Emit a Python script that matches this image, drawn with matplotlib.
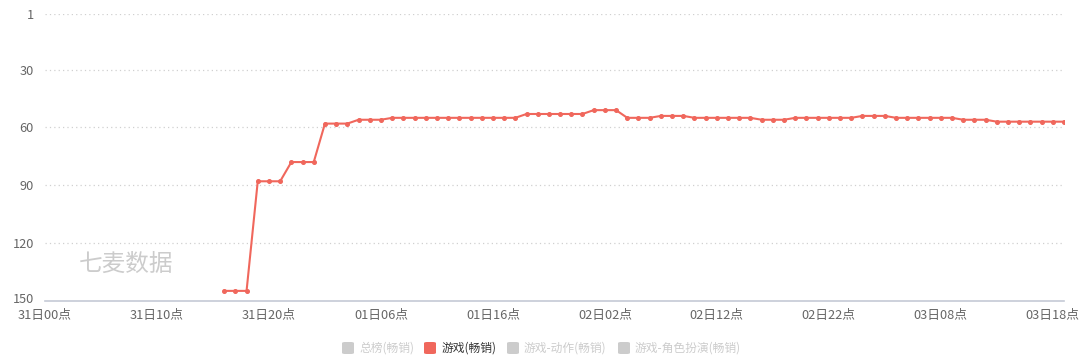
import matplotlib
matplotlib.use("Agg")
import matplotlib.pyplot as plt
import matplotlib.transforms as mtransforms
from matplotlib.patches import FancyBboxPatch
import numpy as np

plt.rcParams['font.family'] = ['Noto Sans CJK SC', 'DejaVu Sans']

# hourly ranks from 31日00点 (index 0) to 03日19点 (index 91); None = not ranked
ranks = [None] * 16 + \
    [145, 145, 145,
     88, 88, 88,
     78, 78, 78,
     58, 58, 58,
     56, 56, 56,
     55, 55, 55, 55, 55, 55, 55, 55, 55, 55, 55, 55,
     53, 53, 53, 53, 53, 53,
     51, 51, 51,
     55, 55, 55,
     54, 54, 54,
     55, 55, 55, 55, 55, 55,
     56, 56, 56,
     55, 55, 55, 55, 55, 55,
     54, 54, 54,
     55, 55, 55, 55, 55, 55,
     56, 56, 56,
     57, 57, 57, 57, 57, 57, 57]

tick_idx = [0, 10, 20, 30, 40, 50, 60, 70, 80, 90]
tick_labels = ['31日00点', '31日10点', '31日20点', '01日06点', '01日16点',
               '02日02点', '02日12点', '02日22点', '03日08点', '03日18点']
y_ticks = [1, 30, 60, 90, 120, 150]
legend_names = ['总榜(畅销)', '游戏(畅销)', '游戏-动作(畅销)', '游戏-角色扮演(畅销)']
legend_active = [False, True, False, False]

line_color = '#f0675c'

fig = plt.figure(figsize=(10.8, 3.62), dpi=100)
ax = fig.add_axes([45/1080, (362-300.5)/362, (1064-45)/1080, (300.5-14)/362])

x = np.arange(len(ranks))
y = np.array([np.nan if r is None else r for r in ranks], dtype=float)
ax.plot(x, y, color=line_color, lw=1.5, marker='o', ms=2.6,
        markerfacecolor=line_color, markeredgecolor=line_color, zorder=3)

ax.set_xlim(0, len(ranks) - 1)
ax.set_ylim(150, 1)
ax.set_yticks(y_ticks)
ax.set_yticklabels([str(v) for v in y_ticks])
ax.set_xticks(tick_idx)
ax.set_xticklabels(tick_labels)

for v in y_ticks[:-1]:
    ax.axhline(v, color='#d0d0d0', lw=0.9, ls=(0, (1, 2.5)), zorder=1)

for s in ['top', 'right', 'left']:
    ax.spines[s].set_visible(False)
ax.spines['bottom'].set_color('#c5cad6')
ax.spines['bottom'].set_linewidth(1.2)
ax.tick_params(axis='both', length=0, labelsize=9.2, colors='#666666')
ax.tick_params(axis='x', pad=6)
ax.tick_params(axis='y', pad=8)
# nudge the bottom y label up slightly so it stays clear of the first x label
lab = ax.get_yticklabels()[-1]
lab.set_transform(lab.get_transform() +
                  mtransforms.ScaledTranslation(0, 3/100, fig.dpi_scale_trans))

# watermark
fig.text(79/1080, 1 - 264/362, '七麦数据', fontsize=17, color='#cccccc',
         ha='left', va='center')

# legend
sq_x = [342, 424, 507, 618]
txt_x = [359, 442, 524, 635]
yc = 1 - 348/362
for sx, tx, name, act in zip(sq_x, txt_x, legend_names, legend_active):
    col = line_color if act else '#cccccc'
    p = FancyBboxPatch((sx/1080, yc - 6/362), 12/1080, 12/362,
                       boxstyle='round,pad=0,rounding_size=0.003',
                       transform=fig.transFigure, facecolor=col, edgecolor='none')
    fig.patches.append(p)
    fig.text(tx/1080, yc, name, fontsize=8.5, color='#333333' if act else '#cccccc',
             ha='left', va='center')

fig.savefig('out.png', dpi=100)
